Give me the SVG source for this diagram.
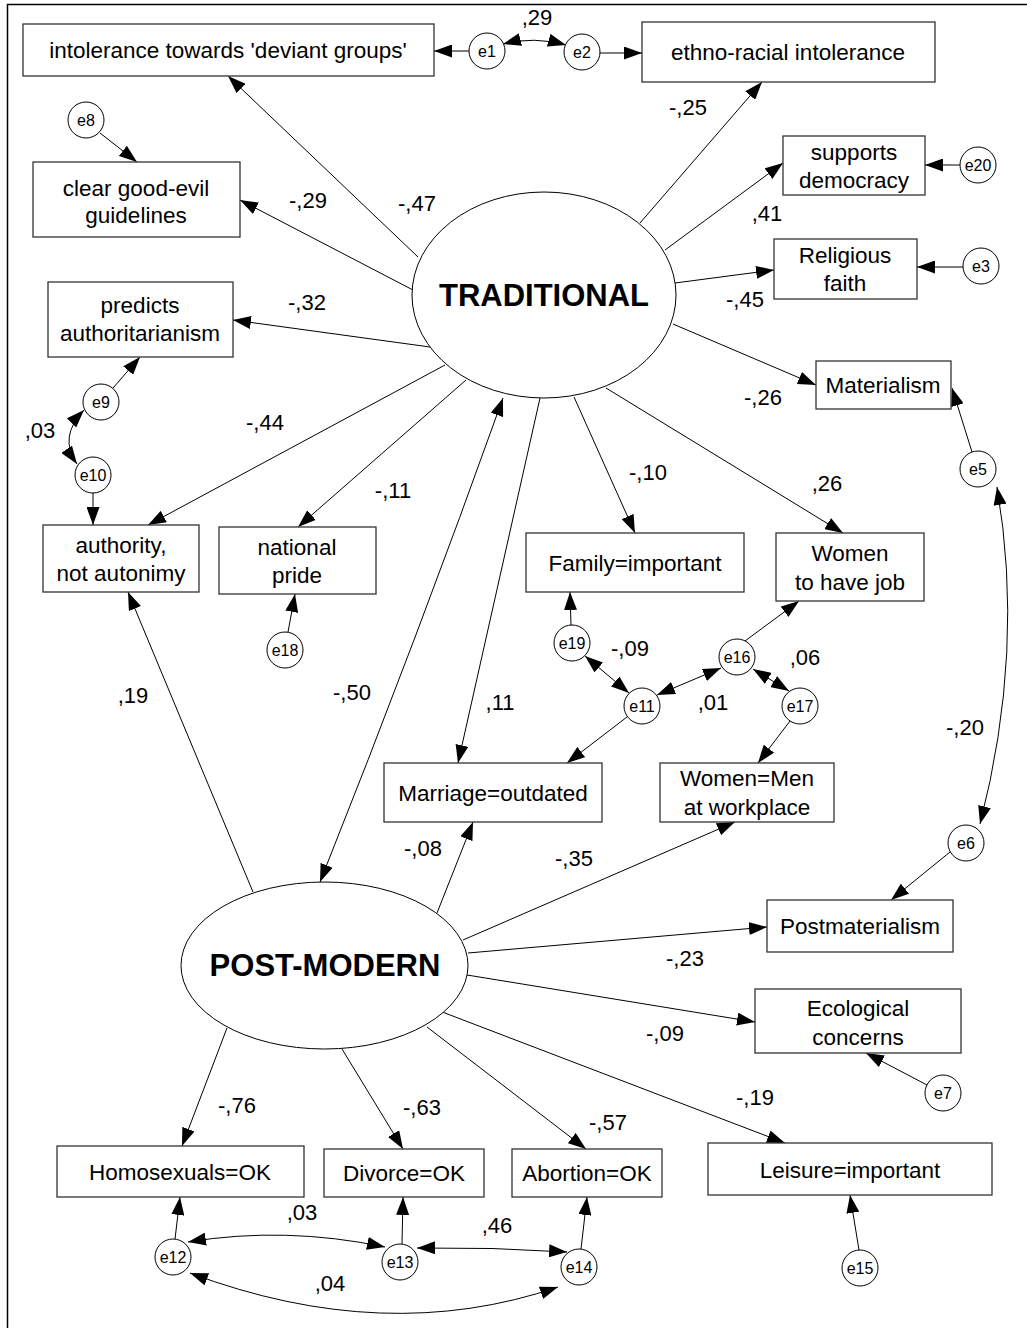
<svg xmlns="http://www.w3.org/2000/svg" width="1027" height="1328" viewBox="0 0 1027 1328">
<defs>
<marker id="ah" markerUnits="userSpaceOnUse" markerWidth="18" markerHeight="13" refX="18" refY="6.5" orient="auto-start-reverse">
<path d="M0,0 L18,6.5 L0,13 z" fill="#000"/>
</marker>
</defs>
<style>
.box{fill:#fff;stroke:#333;stroke-width:1.3}
.err{fill:#fff;stroke:#000;stroke-width:1}
.lat{fill:#fff;stroke:#000;stroke-width:1}
.t{font-family:"Liberation Sans",Arial,sans-serif;font-size:22.5px;text-anchor:middle;fill:#000}
.et{font-family:"Liberation Sans",Arial,sans-serif;font-size:16px;text-anchor:middle;fill:#000}
.lt{font-family:"Liberation Sans",Arial,sans-serif;font-size:31px;font-weight:bold;text-anchor:middle;fill:#000}
.n{font-family:"Liberation Sans",Arial,sans-serif;font-size:22px;text-anchor:middle;fill:#000}
.c line,.c path{stroke:#000;stroke-width:1;fill:none;marker-end:url(#ah)}
.c .d{marker-start:url(#ah)}
</style>
<rect x="0" y="0" width="1027" height="1328" fill="#fff"/>
<rect x="7.5" y="4.5" width="1030" height="1330" fill="none" stroke="#000" stroke-width="1.5"/>

<g id="connectors" class="c">
<line x1="469" y1="51" x2="434" y2="51"/>
<line x1="600" y1="53" x2="642" y2="53"/>
<line x1="100" y1="133" x2="137" y2="162"/>
<line x1="960" y1="165" x2="925" y2="165"/>
<line x1="963" y1="267" x2="917" y2="267"/>
<line x1="113" y1="388" x2="140" y2="357"/>
<line x1="93" y1="493" x2="93" y2="525"/>
<line x1="972" y1="452" x2="952" y2="388"/>
<line x1="288" y1="632" x2="295" y2="594"/>
<line x1="571" y1="625" x2="570" y2="592"/>
<line x1="745" y1="641" x2="799" y2="601"/>
<line x1="627" y1="717" x2="567" y2="763"/>
<line x1="790" y1="721" x2="758" y2="763"/>
<line x1="950" y1="852" x2="891" y2="900"/>
<line x1="927" y1="1085" x2="866" y2="1053"/>
<line x1="859" y1="1250" x2="850" y2="1195"/>
<line x1="581" y1="1249" x2="587" y2="1197"/>
<line x1="402" y1="1244" x2="403" y2="1197"/>
<line x1="175" y1="1239" x2="180" y2="1197"/>

<line x1="418" y1="257" x2="228" y2="76"/>
<line x1="413" y1="290" x2="240" y2="200"/>
<line x1="430" y1="347" x2="233" y2="320"/>
<line x1="445" y1="365" x2="148" y2="525"/>
<line x1="466" y1="380" x2="298" y2="527"/>
<line x1="540" y1="398" x2="458" y2="763"/>
<line x1="574" y1="397" x2="635" y2="533"/>
<line x1="606" y1="388" x2="843" y2="533"/>
<line x1="673" y1="324" x2="816" y2="385"/>
<line x1="675" y1="283" x2="774" y2="270"/>
<line x1="665" y1="250" x2="783" y2="163"/>
<line x1="640" y1="223" x2="762" y2="82"/>

<line x1="253" y1="892" x2="128" y2="592"/>
<line x1="437" y1="913" x2="473" y2="822"/>
<line x1="463" y1="940" x2="735" y2="822"/>
<line x1="468" y1="953" x2="767" y2="927"/>
<line x1="467" y1="975" x2="755" y2="1022"/>
<line x1="437" y1="1010" x2="785" y2="1143"/>
<line x1="427" y1="1027" x2="586" y2="1149"/>
<line x1="342" y1="1049" x2="403" y2="1149"/>
<line x1="227" y1="1028" x2="182" y2="1146"/>

<path class="d" d="M503,44 Q534,36 566,45"/>
<path class="d" d="M84,410 Q58,437 77,464"/>
<path class="d" d="M997,487 Q1025,650 980,824"/>
<path class="d" d="M503,398 Q418,636 320,882"/>
<line class="d" x1="585" y1="656" x2="629" y2="693"/>
<line class="d" x1="721" y1="668" x2="657" y2="695"/>
<line class="d" x1="753" y1="669" x2="789" y2="691"/>
<path class="d" d="M188,1242 Q285,1226 385,1247"/>
<path class="d" d="M417,1248 Q492,1247 567,1252"/>
<path class="d" d="M190,1273 Q385,1346 558,1287"/>
</g>

<g id="TRADITIONAL"><ellipse class="lat" cx="544" cy="295" rx="132" ry="103"/><text class="lt" x="544" y="306">TRADITIONAL</text></g>
<g id="POSTMODERN"><ellipse class="lat" cx="324.5" cy="965.5" rx="143.5" ry="83.5"/><text class="lt" x="325" y="976">POST-MODERN</text></g>

<g id="intol"><rect class="box" x="23" y="24" width="411" height="52"/><text class="t" x="228" y="58">intolerance towards 'deviant groups'</text></g>
<g id="ethno"><rect class="box" x="642" y="22" width="293" height="60"/><text class="t" x="788" y="60">ethno-racial intolerance</text></g>
<g id="clear"><rect class="box" x="33" y="162" width="207" height="75"/><text class="t" x="136" y="196">clear good-evil</text><text class="t" x="136" y="223">guidelines</text></g>
<g id="supports"><rect class="box" x="783" y="136" width="142" height="59"/><text class="t" x="854" y="160">supports</text><text class="t" x="854" y="188">democracy</text></g>
<g id="religious"><rect class="box" x="774" y="239" width="143" height="60"/><text class="t" x="845" y="263">Religious</text><text class="t" x="845" y="291">faith</text></g>
<g id="predicts"><rect class="box" x="48" y="282" width="185" height="75"/><text class="t" x="140" y="313">predicts</text><text class="t" x="140" y="341">authoritarianism</text></g>
<g id="materialism"><rect class="box" x="816" y="361" width="135" height="48"/><text class="t" x="883" y="393">Materialism</text></g>
<g id="authority"><rect class="box" x="43" y="525" width="156" height="67"/><text class="t" x="121" y="553">authority,</text><text class="t" x="121" y="581">not autonimy</text></g>
<g id="national"><rect class="box" x="219" y="527" width="157" height="67"/><text class="t" x="297" y="555">national</text><text class="t" x="297" y="583">pride</text></g>
<g id="family"><rect class="box" x="526" y="533" width="218" height="59"/><text class="t" x="635" y="571">Family=important</text></g>
<g id="womenjob"><rect class="box" x="776" y="533" width="148" height="68"/><text class="t" x="850" y="561">Women</text><text class="t" x="850" y="590">to have job</text></g>
<g id="marriage"><rect class="box" x="384" y="763" width="218" height="59"/><text class="t" x="493" y="801">Marriage=outdated</text></g>
<g id="womenmen"><rect class="box" x="660" y="763" width="174" height="59"/><text class="t" x="747" y="786">Women=Men</text><text class="t" x="747" y="815">at workplace</text></g>
<g id="postmat"><rect class="box" x="767" y="900" width="186" height="52"/><text class="t" x="860" y="934">Postmaterialism</text></g>
<g id="eco"><rect class="box" x="755" y="989" width="206" height="64"/><text class="t" x="858" y="1016">Ecological</text><text class="t" x="858" y="1045">concerns</text></g>
<g id="homo"><rect class="box" x="57" y="1146" width="247" height="51"/><text class="t" x="180" y="1180">Homosexuals=OK</text></g>
<g id="divorce"><rect class="box" x="324" y="1149" width="160" height="48"/><text class="t" x="404" y="1181">Divorce=OK</text></g>
<g id="abortion"><rect class="box" x="512" y="1149" width="150" height="48"/><text class="t" x="587" y="1181">Abortion=OK</text></g>
<g id="leisure"><rect class="box" x="708" y="1143" width="284" height="52"/><text class="t" x="850" y="1178">Leisure=important</text></g>

<g id="e1"><circle class="err" cx="487" cy="51" r="18"/><text class="et" x="487" y="57">e1</text></g>
<g id="e2"><circle class="err" cx="582" cy="52" r="18"/><text class="et" x="582" y="58">e2</text></g>
<g id="e8"><circle class="err" cx="86" cy="120" r="18"/><text class="et" x="86" y="126">e8</text></g>
<g id="e20"><circle class="err" cx="978" cy="165" r="18"/><text class="et" x="978" y="171">e20</text></g>
<g id="e3"><circle class="err" cx="981" cy="266" r="18"/><text class="et" x="981" y="272">e3</text></g>
<g id="e9"><circle class="err" cx="101" cy="402" r="18"/><text class="et" x="101" y="408">e9</text></g>
<g id="e10"><circle class="err" cx="93" cy="475" r="18"/><text class="et" x="93" y="481">e10</text></g>
<g id="e5"><circle class="err" cx="978" cy="469" r="18"/><text class="et" x="978" y="475">e5</text></g>
<g id="e18"><circle class="err" cx="285" cy="650" r="18"/><text class="et" x="285" y="656">e18</text></g>
<g id="e19"><circle class="err" cx="572" cy="643" r="18"/><text class="et" x="572" y="649">e19</text></g>
<g id="e16"><circle class="err" cx="737" cy="657" r="18"/><text class="et" x="737" y="663">e16</text></g>
<g id="e11"><circle class="err" cx="642" cy="706" r="18"/><text class="et" x="642" y="712">e11</text></g>
<g id="e17"><circle class="err" cx="800" cy="706" r="18"/><text class="et" x="800" y="712">e17</text></g>
<g id="e6"><circle class="err" cx="966" cy="843" r="18"/><text class="et" x="966" y="849">e6</text></g>
<g id="e7"><circle class="err" cx="943" cy="1093" r="18"/><text class="et" x="943" y="1099">e7</text></g>
<g id="e12"><circle class="err" cx="173" cy="1257" r="18"/><text class="et" x="173" y="1263">e12</text></g>
<g id="e13"><circle class="err" cx="400" cy="1262" r="18"/><text class="et" x="400" y="1268">e13</text></g>
<g id="e14"><circle class="err" cx="579" cy="1267" r="18"/><text class="et" x="579" y="1273">e14</text></g>
<g id="e15"><circle class="err" cx="860" cy="1268" r="18"/><text class="et" x="860" y="1274">e15</text></g>

<g id="labels">
<text class="n" x="537" y="25">,29</text>
<text class="n" x="688" y="115">-,25</text>
<text class="n" x="767" y="221">,41</text>
<text class="n" x="745" y="307">-,45</text>
<text class="n" x="763" y="405">-,26</text>
<text class="n" x="827" y="491">,26</text>
<text class="n" x="648" y="480">-,10</text>
<text class="n" x="417" y="211">-,47</text>
<text class="n" x="308" y="208">-,29</text>
<text class="n" x="307" y="310">-,32</text>
<text class="n" x="265" y="430">-,44</text>
<text class="n" x="393" y="498">-,11</text>
<text class="n" x="40" y="438">,03</text>
<text class="n" x="133" y="703">,19</text>
<text class="n" x="352" y="700">-,50</text>
<text class="n" x="500" y="710">,11</text>
<text class="n" x="630" y="656">-,09</text>
<text class="n" x="805" y="665">,06</text>
<text class="n" x="713" y="710">,01</text>
<text class="n" x="965" y="735">-,20</text>
<text class="n" x="423" y="856">-,08</text>
<text class="n" x="574" y="866">-,35</text>
<text class="n" x="685" y="966">-,23</text>
<text class="n" x="665" y="1041">-,09</text>
<text class="n" x="755" y="1105">-,19</text>
<text class="n" x="237" y="1113">-,76</text>
<text class="n" x="422" y="1115">-,63</text>
<text class="n" x="608" y="1130">-,57</text>
<text class="n" x="302" y="1220">,03</text>
<text class="n" x="497" y="1233">,46</text>
<text class="n" x="330" y="1291">,04</text>
</g>
</svg>
